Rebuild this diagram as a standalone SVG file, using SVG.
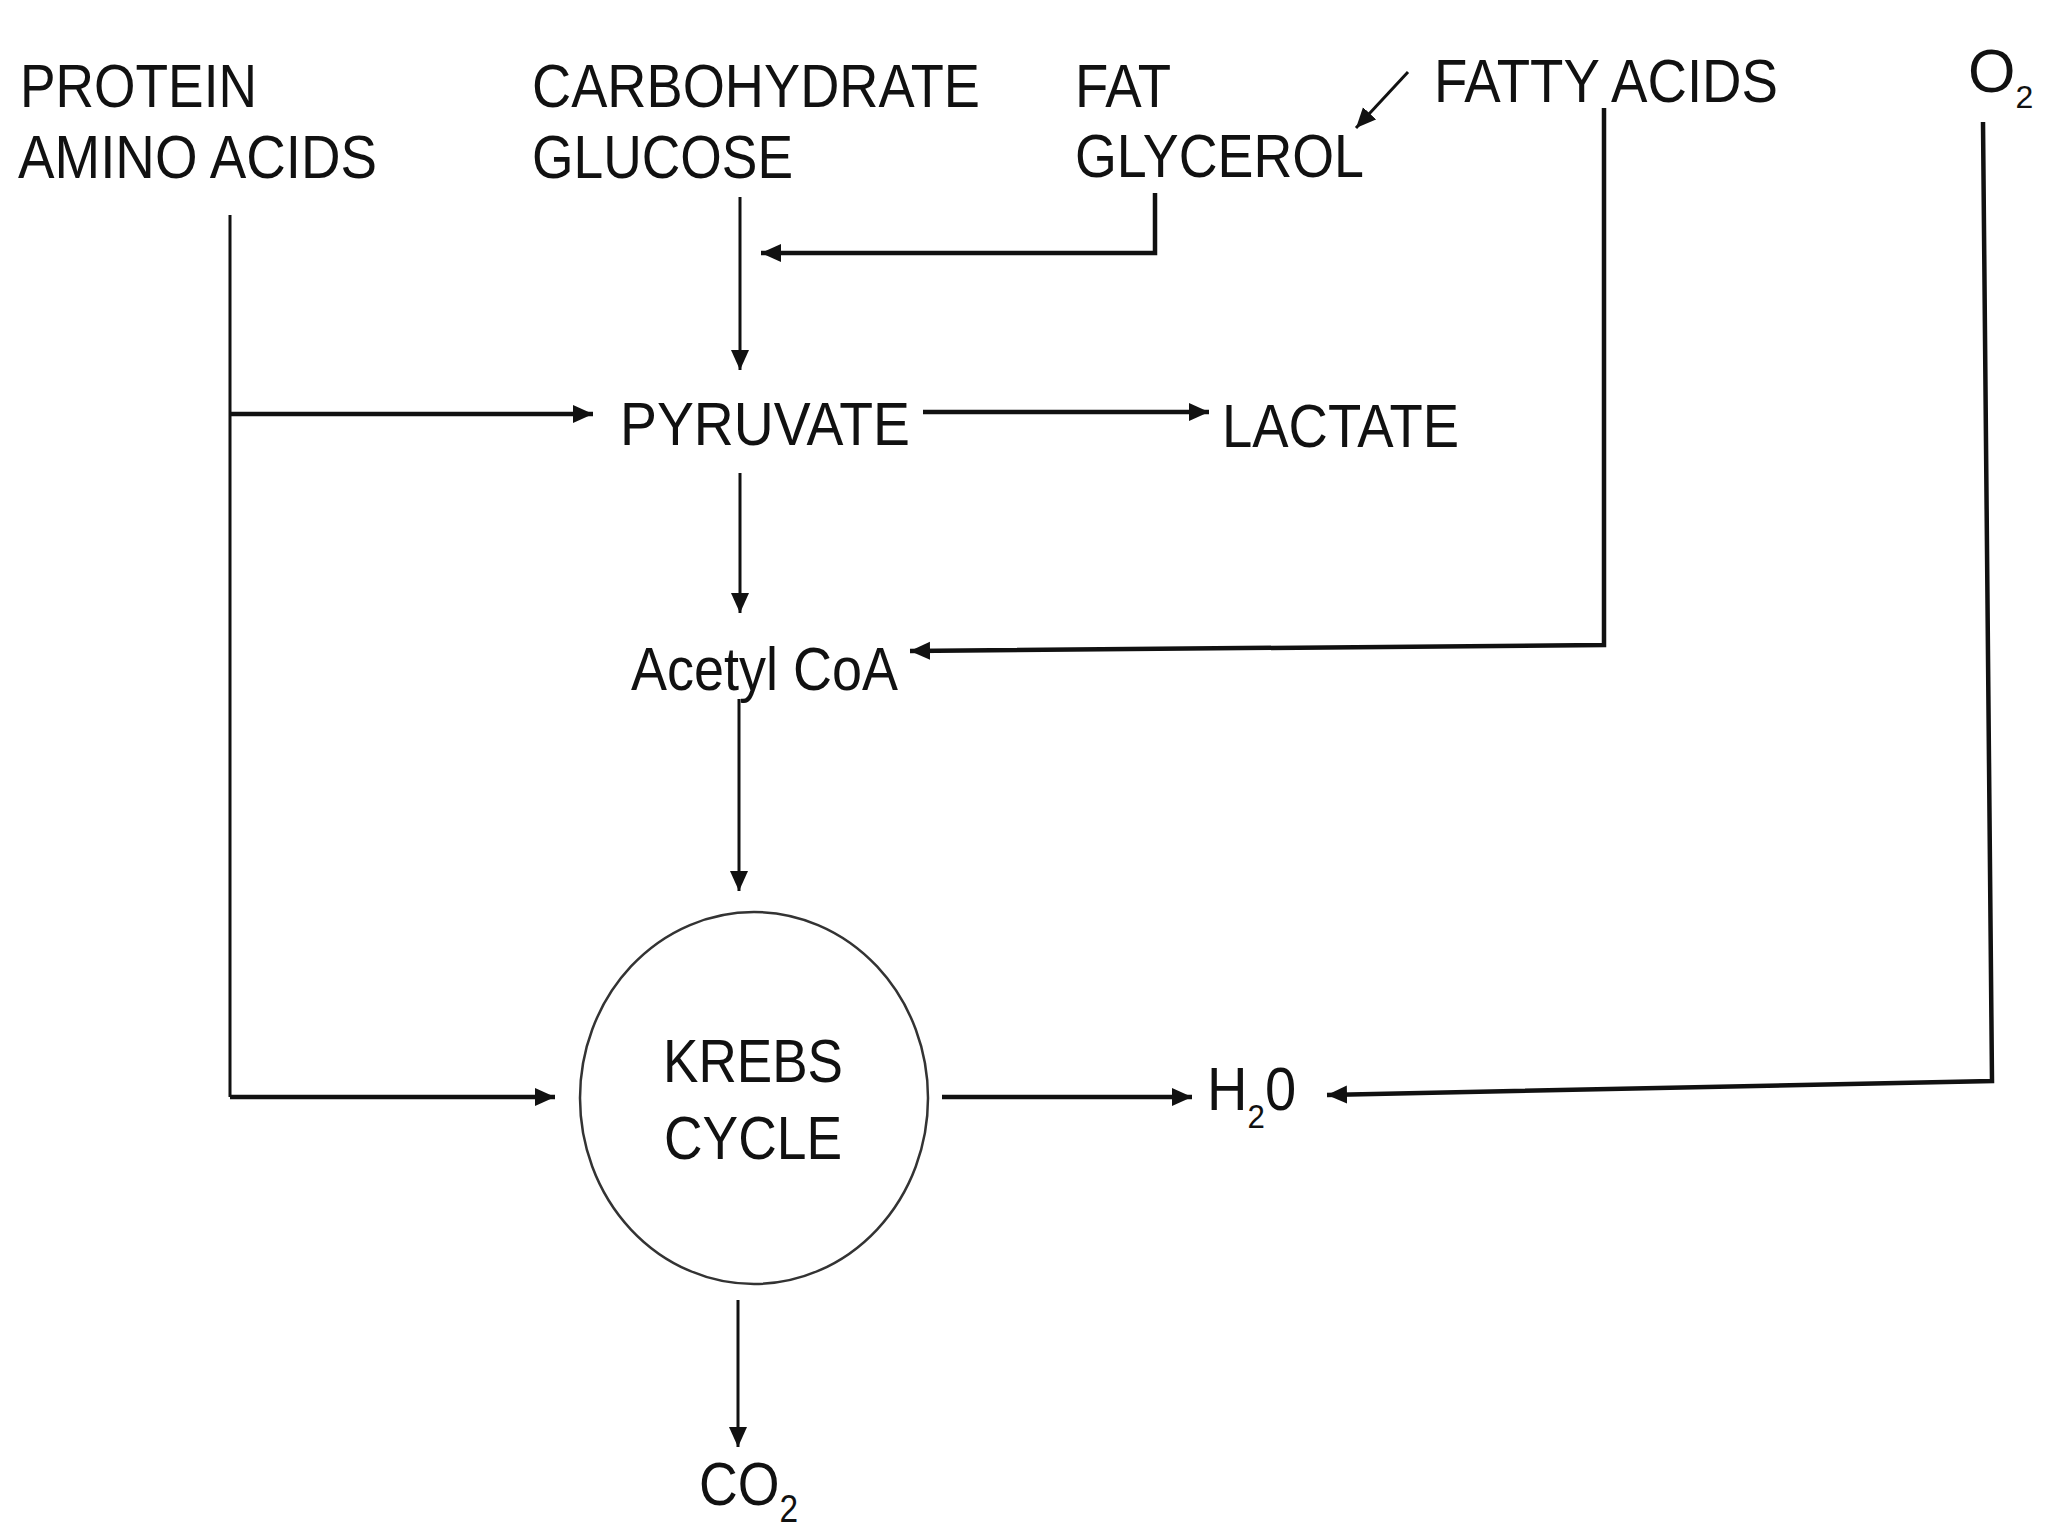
<svg xmlns="http://www.w3.org/2000/svg" width="2048" height="1536" viewBox="0 0 2048 1536">
<style>
text{font-family:"Liberation Sans",Arial,sans-serif;font-size:61px;fill:#111}
.c{fill:none;stroke:#111;stroke-linejoin:miter}
.h{stroke-width:4.5}
.v{stroke-width:3}
</style>
<defs>
<marker id="a" markerUnits="userSpaceOnUse" markerWidth="22" markerHeight="20" refX="20" refY="9" orient="auto">
<path d="M0,0 L20,9 L0,18 z" fill="#111"/>
</marker>
</defs>
<rect width="2048" height="1536" fill="#fff"/>
<g id="connectors">
<path class="c v" d="M230,215 V1097"/>
<path class="c h" d="M230,1097 H555" marker-end="url(#a)"/>
<path class="c h" d="M230,414 H593" marker-end="url(#a)"/>
<path class="c v" d="M740,197 V370" marker-end="url(#a)"/>
<path class="c h" d="M1155,193 V253 H761" marker-end="url(#a)"/>
<path class="c v" d="M1408,72 L1356,128" marker-end="url(#a)"/>
<path class="c h" d="M1604,108 V645 L910,651" marker-end="url(#a)"/>
<path class="c h" d="M1983,122 L1992,1081 L1327,1095" marker-end="url(#a)"/>
<path class="c h" d="M923,412 H1209" marker-end="url(#a)"/>
<path class="c v" d="M740,473 V613" marker-end="url(#a)"/>
<path class="c v" d="M739,699 V891" marker-end="url(#a)"/>
<path class="c h" d="M942,1097 H1192" marker-end="url(#a)"/>
<path class="c v" d="M738,1300 V1447" marker-end="url(#a)"/>
</g>
<g id="protein">
<text x="20" y="107" textLength="237" lengthAdjust="spacingAndGlyphs">PROTEIN</text>
<text x="18" y="178" textLength="359" lengthAdjust="spacingAndGlyphs">AMINO ACIDS</text>
</g>
<g id="carbohydrate">
<text x="532" y="107" textLength="448" lengthAdjust="spacingAndGlyphs">CARBOHYDRATE</text>
<text x="532" y="178" textLength="261" lengthAdjust="spacingAndGlyphs">GLUCOSE</text>
</g>
<g id="fat">
<text x="1075" y="107" textLength="96" lengthAdjust="spacingAndGlyphs">FAT</text>
<text x="1075" y="177" textLength="289" lengthAdjust="spacingAndGlyphs">GLYCEROL</text>
</g>
<g id="fatty-acids">
<text x="1434" y="102" textLength="344" lengthAdjust="spacingAndGlyphs">FATTY ACIDS</text>
</g>
<g id="o2">
<text transform="translate(1968,92)" font-size="54">O<tspan font-size="32" dy="16">2</tspan></text>
</g>
<g id="pyruvate">
<text x="620" y="445" textLength="290" lengthAdjust="spacingAndGlyphs">PYRUVATE</text>
</g>
<g id="lactate">
<text x="1222" y="447" textLength="237" lengthAdjust="spacingAndGlyphs">LACTATE</text>
</g>
<g id="acetyl-coa">
<text x="631" y="690" textLength="267" lengthAdjust="spacingAndGlyphs">Acetyl CoA</text>
</g>
<g id="krebs-cycle">
<ellipse cx="754" cy="1098" rx="174" ry="186" fill="none" stroke="#333" stroke-width="2.5"/>
<text x="663" y="1082" textLength="180" lengthAdjust="spacingAndGlyphs">KREBS</text>
<text x="664" y="1159" textLength="178" lengthAdjust="spacingAndGlyphs">CYCLE</text>
</g>
<g id="h2o">
<text transform="translate(1207,1110) scale(0.92,1)">H<tspan font-size="34" dy="18">2</tspan><tspan dy="-18">0</tspan></text>
</g>
<g id="co2">
<text transform="translate(699,1505) scale(0.88,1)">CO<tspan font-size="38" dy="17">2</tspan></text>
</g>
</svg>
